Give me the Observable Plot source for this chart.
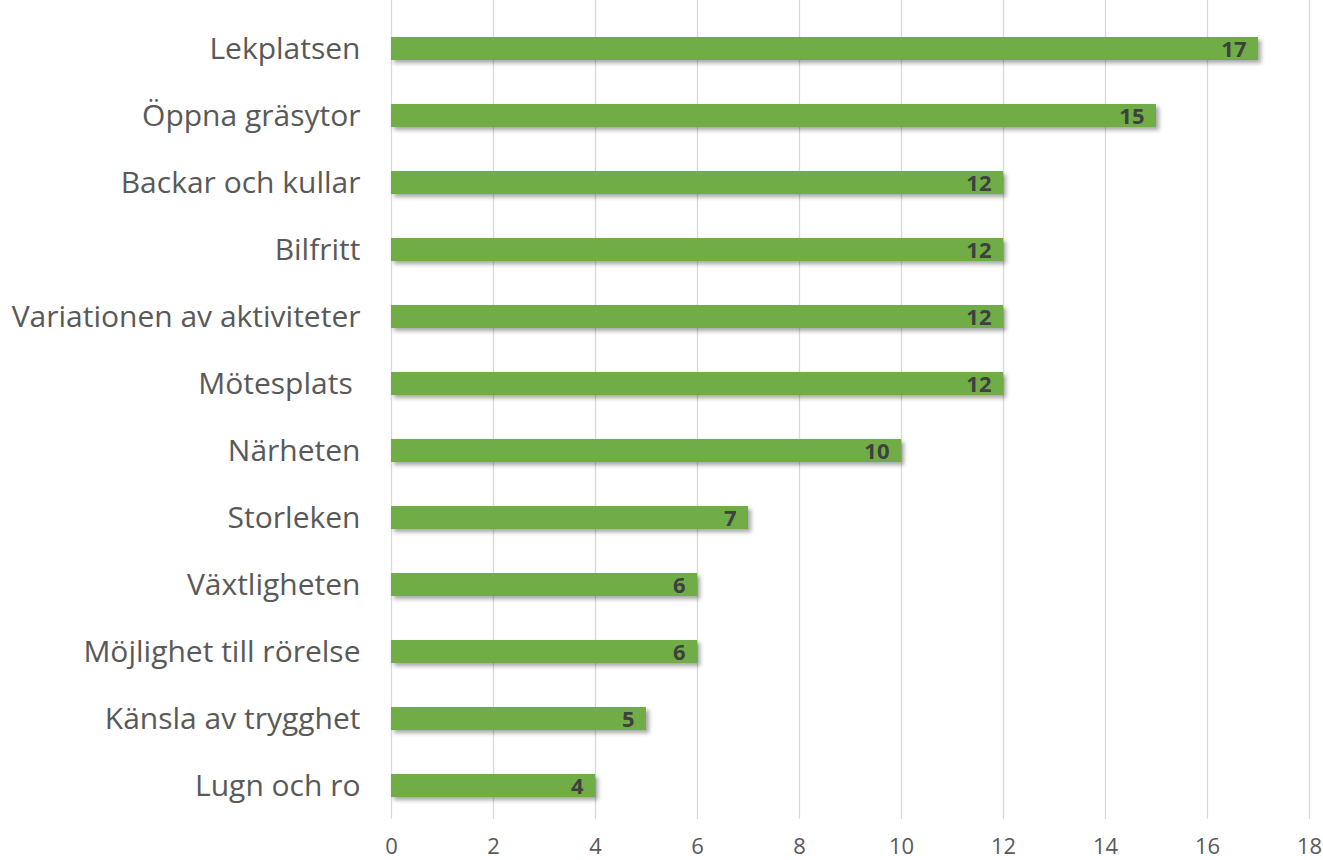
<!DOCTYPE html>
<html>
<head>
<meta charset="utf-8">
<script src="https://cdn.jsdelivr.net/npm/d3@7"></script>
<script src="https://cdn.jsdelivr.net/npm/@observablehq/plot@0.6"></script>
<style>
  html, body { margin: 0; padding: 0; background: #fff; }
  svg { display: block; }
</style>
</head>
<body>
<div id="chart"></div>
<script>
const categories = ["Lekplatsen", "Öppna gräsytor", "Backar och kullar", "Bilfritt", "Variationen av aktiviteter", "Mötesplats ", "Närheten", "Storleken", "Växtligheten", "Möjlighet till rörelse", "Känsla av trygghet", "Lugn och ro"];
const values = [17, 15, 12, 12, 12, 12, 10, 7, 6, 6, 5, 4];
const xTicks = [0, 2, 4, 6, 8, 10, 12, 14, 16, 18];

const data = categories.map((c, i) => ({ category: c, value: values[i] }));

const chart = Plot.plot({
  width: 1323,
  height: 860,
  marginLeft: 391,
  marginRight: 14,
  marginTop: 0,
  marginBottom: 41,
  style: { fontFamily: "'Open Sans', sans-serif", background: "#fff" },
  x: { domain: [0, 18], ticks: xTicks },
  y: { domain: categories, paddingInner: 0.655, paddingOuter: 0.3275, insetTop: 15, label: null },
  marks: [
    Plot.ruleX(xTicks, { stroke: "#d9d9d9", strokeWidth: 1.3 }),
    Plot.barX(data, { x: "value", y: "category", fill: "#70AD47" }),
    Plot.text(data, {
      x: "value", y: "category", text: d => String(d.value),
      textAnchor: "end", dx: -12, dy: 1,
      fill: "#404040", fontWeight: "bold", fontSize: 22
    }),
    Plot.axisY({ tickSize: 0, tickPadding: 31, fontSize: 30, color: "#595959", label: null }),
    Plot.axisX({ ticks: xTicks, tickSize: 0, tickPadding: 19, fontSize: 22, color: "#595959", label: null })
  ]
});

document.getElementById("chart").appendChild(chart);

// drop shadow on bars
const svg = d3.select(chart);
const defs = svg.insert("defs", ":first-child");
const f = defs.append("filter").attr("id", "barShadow")
  .attr("x", "-5%").attr("y", "-50%").attr("width", "115%").attr("height", "220%");
f.append("feDropShadow").attr("dx", 3).attr("dy", 3).attr("stdDeviation", 2)
  .attr("flood-color", "#000").attr("flood-opacity", 0.35);
svg.selectAll("g[aria-label='bar'] rect").attr("filter", "url(#barShadow)");
svg.selectAll("g[aria-label='y-axis tick label'] text").style("white-space", "pre");
</script>
</body>
</html>
